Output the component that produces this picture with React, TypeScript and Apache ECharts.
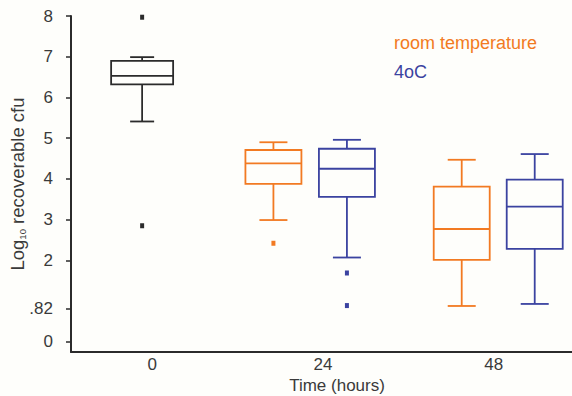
import React, { useEffect, useRef } from "react";
import * as echarts from "echarts";

// ---- data ----
const timeLabels = ["0", "24", "48"];
const timeValues = [0, 24, 48];

// [time, min, Q1, median, Q3, max]
const baselineBoxes = [[0, 5.41, 6.32, 6.53, 6.9, 6.99]];
const baselineOutliers = [[0, 7.97], [0, 2.85]];

const roomTempBoxes = [
  [24, 2.99, 3.88, 4.38, 4.71, 4.9],
  [48, 0.88, 2.01, 2.77, 3.81, 4.47],
];
const roomTempOutliers = [[24, 2.42]];

const coldBoxes = [
  [24, 2.07, 3.56, 4.25, 4.74, 4.96],
  [48, 0.93, 2.28, 3.32, 3.98, 4.61],
];
const coldOutliers = [[24, 1.69], [24, 0.89]];

const yTickValues = [0, 0.82, 2, 3, 4, 5, 6, 7, 8];

// ---- styles / layout ----
const BLACK = "#2b2b2b";
const ORANGE = "#f27a22";
const BLUE = "#3b43a0";
const TEXT = "#3a3a3a";
const FONT = "Liberation Sans, Arial, sans-serif";

// pixel shift of each box from its time tick, per time value
const SHIFT_BASE: Record<number, number> = { 0: -10 };
const SHIFT_ROOM: Record<number, number> = { 24: -49.5, 48: -32 };
const SHIFT_COLD: Record<number, number> = { 24: 24, 48: 41 };

function boxRenderer(color: string, shift: Record<number, number>, boxW: number, capW: number) {
  return (params: any, api: any) => {
    const t = api.value(0);
    const dx = shift[t] || 0;
    const pMin = api.coord([t, api.value(1)]);
    const pQ1 = api.coord([t, api.value(2)]);
    const pMed = api.coord([t, api.value(3)]);
    const pQ3 = api.coord([t, api.value(4)]);
    const pMax = api.coord([t, api.value(5)]);
    const cx = pMin[0] + dx;
    const hw = boxW / 2;
    const hc = capW / 2;
    const style = { stroke: color, lineWidth: 1.8, fill: "none" };
    return {
      type: "group",
      children: [
        { type: "rect", shape: { x: cx - hw, y: pQ3[1], width: boxW, height: pQ1[1] - pQ3[1] }, style },
        { type: "line", shape: { x1: cx - hw, y1: pMed[1], x2: cx + hw, y2: pMed[1] }, style },
        { type: "line", shape: { x1: cx, y1: pQ3[1], x2: cx, y2: pMax[1] }, style },
        { type: "line", shape: { x1: cx, y1: pQ1[1], x2: cx, y2: pMin[1] }, style },
        { type: "line", shape: { x1: cx - hc, y1: pMax[1], x2: cx + hc, y2: pMax[1] }, style },
        { type: "line", shape: { x1: cx - hc, y1: pMin[1], x2: cx + hc, y2: pMin[1] }, style },
      ],
    };
  };
}

function outlierRenderer(color: string, shift: Record<number, number>) {
  return (params: any, api: any) => {
    const t = api.value(0);
    const p = api.coord([t, api.value(1)]);
    const cx = p[0] + (shift[t] || 0);
    return {
      type: "rect",
      shape: { x: cx - 2, y: p[1] - 2.5, width: 4, height: 5 },
      style: { fill: color },
    };
  };
}

export default function App() {
  const ref = useRef<HTMLDivElement>(null);
  useEffect(() => {
    if (!ref.current) return;
    const chart = echarts.init(ref.current, undefined, { renderer: "svg" });
    chart.setOption({
      animation: false,
      backgroundColor: "#fefefb",
      textStyle: { fontFamily: FONT },
      grid: { left: 71, right: 0, top: 16, bottom: 44, containLabel: false, outerBoundsMode: "none" },
      legend: {
        orient: "vertical",
        left: 384,
        top: 29,
        icon: "none",
        itemWidth: 0,
        itemHeight: 17,
        itemGap: 11,
        selectedMode: false,
        data: [
          { name: "room temperature", textStyle: { color: ORANGE } },
          { name: "4oC", textStyle: { color: BLUE } },
        ],
        textStyle: { fontSize: 18, fontFamily: FONT },
      },
      xAxis: {
        type: "value",
        min: -11.4,
        max: 59,
        splitLine: { show: false },
        axisLine: { show: true, onZero: false, lineStyle: { color: BLACK, width: 2 } },
        axisTick: { show: false },
        axisLabel: {
          customValues: timeValues,
          formatter: (v: number) => timeLabels[timeValues.indexOf(v)] ?? "",
          color: TEXT,
          fontSize: 17,
          margin: 4,
          fontFamily: FONT,
        },
        name: "Time (hours)",
        nameLocation: "middle",
        nameGap: 25,
        nameMoveOverlap: false,
        nameTextStyle: { color: TEXT, fontSize: 17, fontFamily: FONT, padding: [0, 0, 0, 31] },
      },
      yAxis: {
        type: "value",
        min: -0.25,
        max: 8,
        splitLine: { show: false },
        axisLine: { show: true, onZero: false, lineStyle: { color: BLACK, width: 2 } },
        axisTick: { show: true, customValues: yTickValues, length: 5, lineStyle: { color: BLACK, width: 1.5 } },
        axisLabel: {
          customValues: yTickValues,
          formatter: (v: number) => (v === 0.82 ? ".82" : String(v)),
          color: TEXT,
          fontSize: 17,
          margin: 18,
          fontFamily: FONT,
        },
        name: "{a|Log}{s|10}{a| recoverable cfu}",
        nameLocation: "middle",
        nameGap: 44,
        nameMoveOverlap: false,
        nameTextStyle: {
          color: TEXT,
          fontFamily: FONT,
          rich: {
            a: { fontSize: 18.5, color: TEXT, fontFamily: FONT },
            s: { fontSize: 9.5, color: TEXT, fontFamily: FONT, verticalAlign: "bottom", lineHeight: 15 },
          },
        },
      },
      series: [
        {
          type: "custom",
          name: "baseline",
          data: baselineBoxes,
          encode: { x: 0, y: [1, 2, 3, 4, 5] },
          renderItem: boxRenderer(BLACK, SHIFT_BASE, 62, 24),
        },
        {
          type: "custom",
          name: "room temperature",
          itemStyle: { color: ORANGE },
          data: roomTempBoxes,
          encode: { x: 0, y: [1, 2, 3, 4, 5] },
          renderItem: boxRenderer(ORANGE, SHIFT_ROOM, 56, 28),
        },
        {
          type: "custom",
          name: "4oC",
          itemStyle: { color: BLUE },
          data: coldBoxes,
          encode: { x: 0, y: [1, 2, 3, 4, 5] },
          renderItem: boxRenderer(BLUE, SHIFT_COLD, 56, 28),
        },
        {
          type: "custom",
          name: "baseline outliers",
          data: baselineOutliers,
          encode: { x: 0, y: 1 },
          renderItem: outlierRenderer(BLACK, SHIFT_BASE),
        },
        {
          type: "custom",
          name: "room temperature outliers",
          data: roomTempOutliers,
          encode: { x: 0, y: 1 },
          renderItem: outlierRenderer(ORANGE, SHIFT_ROOM),
        },
        {
          type: "custom",
          name: "4oC outliers",
          data: coldOutliers,
          encode: { x: 0, y: 1 },
          renderItem: outlierRenderer(BLUE, SHIFT_COLD),
        },
      ],
    });
    return () => chart.dispose();
  }, []);
  return (
    <div
      ref={ref}
      style={{ position: "fixed", left: 0, top: 0, width: 572, height: 396 }}
    />
  );
}
